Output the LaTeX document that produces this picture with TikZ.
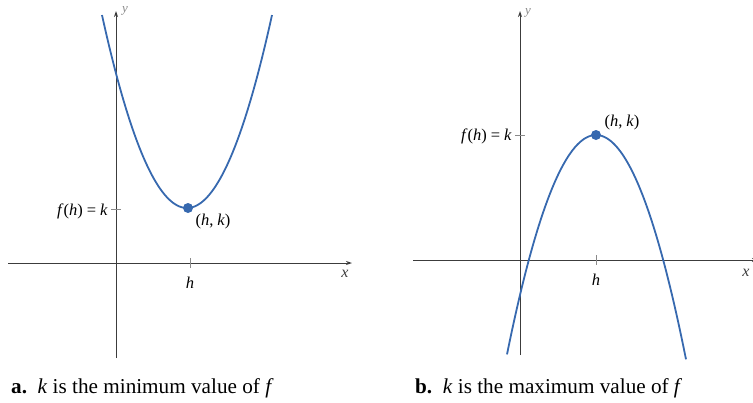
\documentclass[tikz,border=0pt]{standalone}
\usepackage{fontspec}
\setmainfont{Liberation Serif}
\usetikzlibrary{arrows.meta}
\definecolor{curveblue}{RGB}{55,105,175}
\definecolor{axisgray}{RGB}{60,60,60}
\begin{document}
\begin{tikzpicture}[x=1pt,y=-1pt,
  axis/.style={draw=axisgray,line width=1pt,-{Stealth[length=6pt,width=4pt]}},
  curve/.style={draw=curveblue,line width=1.8pt},
  tickmark/.style={draw=axisgray!60,line width=0.8pt},
  lbl/.style={font=\fontsize{16.5}{18}\selectfont,inner sep=1pt},
  ylbl/.style={font=\fontsize{13}{14}\selectfont\itshape,inner sep=0pt,text=axisgray!60},
  xlbl/.style={font=\fontsize{16}{17}\selectfont\itshape,inner sep=0pt,text=axisgray},
  dot/.style={circle,fill=curveblue,inner sep=0pt,minimum size=10pt},
  caption/.style={font=\fontsize{21.2}{23}\selectfont,anchor=base west,inner sep=0pt}]
\useasboundingbox (0,0) rectangle (753,402);
% ---------- panel a ----------
\coordinate (ayb) at (116,358);
\coordinate (ayt) at (116,11);
\coordinate (axl) at (8,263);
\coordinate (axr) at (352,263);
\draw[axis] (ayb) -- (ayt);
\draw[axis] (axl) -- (axr);
\node[ylbl] (aylab) at (125,11) {y};
\node[xlbl] (axlab) at (345,274) {x};
\draw[curve] plot[domain=102:272,samples=80,smooth] (\x,{208-0.0267*(\x-187)^2});
\draw[tickmark] (111,209) -- (121,209);
\draw[tickmark] (190,258) -- (190,268);
\node[lbl,anchor=east] (afk) at (109,211) {\textit{f}(\textit{h})\hspace{4pt}=\hspace{4pt}\textit{k}};
\node[lbl] (ah) at (190,283) {\textit{h}};
\node[dot] (av) at (188,208) {};
\node[lbl] (ahk) at (213,222) {(\textit{h},\hspace{4pt}\textit{k})};
\node[caption] (acap) at (11,393) {\textbf{a.}\ \ \textit{k} is the minimum value of \textit{f}};
% ---------- panel b ----------
\coordinate (byb) at (520,355);
\coordinate (byt) at (520,11);
\coordinate (bxl) at (413,260);
\coordinate (bxr) at (758,260);
\draw[axis] (byb) -- (byt);
\draw[axis] (bxl) -- (bxr);
\node[ylbl] (bylab) at (528,13) {y};
\node[xlbl] (bxlab) at (746,273) {x};
\draw[curve] plot[domain=507:686,samples=80,smooth] (\x,{135+0.0277*(\x-596)^2});
\draw[tickmark] (515,135) -- (525,135);
\draw[tickmark] (596,255) -- (596,265);
\node[lbl,anchor=east] (bfk) at (513,136) {\textit{f}(\textit{h})\hspace{4pt}=\hspace{4pt}\textit{k}};
\node[lbl] (bh) at (596,280) {\textit{h}};
\node[dot] (bv) at (596,135) {};
\node[lbl] (bhk) at (622,123) {(\textit{h},\hspace{4pt}\textit{k})};
\node[caption] (bcap) at (415,393) {\textbf{b.}\ \ \textit{k} is the maximum value of \textit{f}};
\end{tikzpicture}
\end{document}
